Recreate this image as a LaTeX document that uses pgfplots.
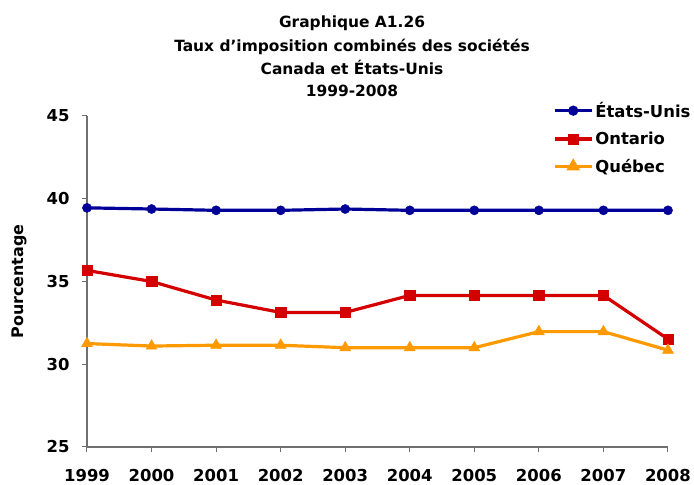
\documentclass[border=0pt]{standalone}
\usepackage{pgfplots}
\pgfplotsset{compat=1.18}
\usepackage{fontspec}
\setmainfont{DejaVu Sans}
\definecolor{cblue}{HTML}{000099}
\definecolor{cred}{HTML}{D40000}
\definecolor{corange}{HTML}{FF9900}
\definecolor{axgray}{HTML}{707070}
\begin{document}
\begin{tikzpicture}
\path[use as bounding box] (-87bp,-38bp) rectangle (607bp,447bp);
\begin{axis}[
  at={(0,0)}, anchor=origin,
  scale only axis, width=581bp, height=331bp,
  xmin=1999, xmax=2008, ymin=25, ymax=45,
  xtick={1999,...,2008}, ytick={25,30,...,45},
  axis lines*=left,
  axis line style={axgray, line width=1.3bp, -},
  every tick/.style={axgray, line width=1bp},
  tick align=outside, major tick length=5bp,
  x tick label style={/pgf/number format/1000 sep={}},
  /pgf/number format/assume math mode=true,
  tick label style={font=\fontsize{16.5}{19}\selectfont\bfseries},
  xticklabel style={yshift=-14bp},
  yticklabel style={xshift=-9bp},
  ylabel={Pourcentage},
  ylabel style={font=\fontsize{16}{19}\selectfont\bfseries, at={(axis description cs:-0.117,0.5)}, anchor=center},
  clip=false,
  legend cell align=left,
  legend style={at={(0.802,1.048)}, anchor=north west, draw=none, fill=none,
    font=\fontsize{16.5}{19}\selectfont\bfseries, row sep=9bp, inner sep=0pt,
    nodes={inner xsep=2bp}},
  legend image code/.code={\draw[mark repeat=2,mark phase=2, mark options={scale=0.75}] plot coordinates {(0bp,0bp) (18.5bp,0bp) (37bp,0bp)};},
]
\addplot[cblue, line width=3.2bp, mark=*, mark size=4.6bp, mark options={solid, line width=0.4bp}] coordinates {
(1999,39.45) (2000,39.38) (2001,39.3) (2002,39.3) (2003,39.38) (2004,39.3) (2005,39.3) (2006,39.3) (2007,39.3) (2008,39.3)};
\addlegendentry{États-Unis}
\addplot[cred, line width=3.2bp, mark=square*, mark size=5.2bp, mark options={solid, line width=0.4bp}] coordinates {
(1999,35.67) (2000,35.0) (2001,33.88) (2002,33.13) (2003,33.13) (2004,34.16) (2005,34.16) (2006,34.16) (2007,34.16) (2008,31.52)};
\addlegendentry{Ontario}
\addplot[corange, line width=3.2bp, mark=triangle*, mark size=6.4bp, mark options={solid, line width=0.4bp}] coordinates {
(1999,31.25) (2000,31.1) (2001,31.15) (2002,31.15) (2003,31.0) (2004,31.0) (2005,31.0) (2006,31.97) (2007,31.97) (2008,30.85)};
\addlegendentry{Québec}
\end{axis}
\begin{scope}[every node/.style={font=\fontsize{15.5}{19}\selectfont\bfseries, anchor=base, inner sep=0pt}]
\node at (265bp,419bp) {Graphique A1.26};
\node at (265bp,395bp) {Taux d’imposition combinés des sociétés};
\node at (265bp,372bp) {Canada et États-Unis};
\node at (265bp,350bp) {1999-2008};
\end{scope}
\end{tikzpicture}
\end{document}
